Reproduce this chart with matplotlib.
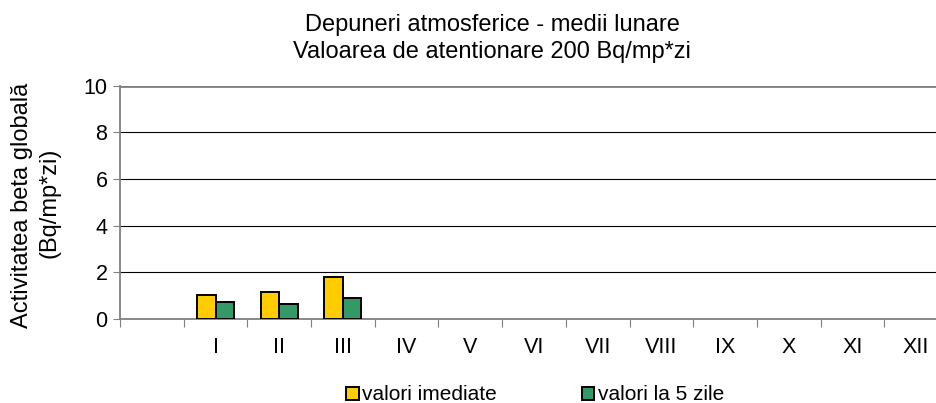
import matplotlib
matplotlib.use("Agg")
import matplotlib.pyplot as plt
import numpy as np

# categories: an empty slot, then the months
months = ["", "I", "II", "III", "IV", "V", "VI", "VII", "VIII", "IX", "X", "XI", "XII"]
valori_imediate = [np.nan, 1.02, 1.15, 1.81] + [np.nan] * 9
valori_5_zile = [np.nan, 0.72, 0.66, 0.89] + [np.nan] * 9

yellow = "#FFCC00"
green = "#339966"

plt.rcParams["font.family"] = ["Liberation Sans", "DejaVu Sans"]

fig = plt.figure(figsize=(9.36, 4.03), dpi=100)
ax = fig.add_axes([120 / 936, 1 - 319 / 403, 828 / 936, (319 - 85.5) / 403])

x = np.arange(len(months))
w = 0.29
ax.bar(x - w / 2, valori_imediate, w, color=yellow, edgecolor="black",
       linewidth=1.4, label="valori imediate", zorder=3)
ax.bar(x + w / 2, valori_5_zile, w, color=green, edgecolor="black",
       linewidth=1.4, label="valori la 5 zile", zorder=3)

ax.set_xlim(-0.5, len(months) - 0.5)
ax.set_ylim(0, 10)
ax.set_yticks(np.arange(0, 10, 2))
ax.yaxis.grid(True, color="black", linewidth=0.8)
ax.axhline(10, color="#808080", linewidth=2, zorder=2)
ax.set_axisbelow(True)

# tick marks on slot boundaries, labels on slot centres
ax.set_xticks(np.arange(-0.5, len(months)))
ax.set_xticklabels([])
ax.set_xticks(x, months, minor=True)
ax.tick_params(axis="x", which="major", length=6, color="#808080", direction="out")
ax.tick_params(axis="x", which="minor", length=0, pad=13, labelsize=15.5)
ax.set_yticks(np.arange(0, 11, 2))
ax.tick_params(axis="y", length=5, color="#808080", labelsize=15.5, pad=4)

for s in ["top", "right"]:
    ax.spines[s].set_visible(False)
ax.spines["left"].set_color("#808080")
ax.spines["bottom"].set_color("#808080")
ax.spines["left"].set_linewidth(1.3)
ax.spines["bottom"].set_linewidth(1.3)

fig.text(492 / 936, 1 - 25 / 403, "Depuneri atmosferice - medii lunare",
         ha="center", va="center", fontsize=17)
fig.text(492 / 936, 1 - 52 / 403, "Valoarea de atentionare 200 Bq/mp*zi",
         ha="center", va="center", fontsize=17)

fig.text(22 / 936, 1 - 205 / 403, "Activitatea beta globală", rotation=90,
         ha="center", va="center", fontsize=17)
fig.text(50 / 936, 1 - 203 / 403, "(Bq/mp*zi)", rotation=90,
         ha="center", va="center", fontsize=17)

fig.legend(loc="center", bbox_to_anchor=(535 / 936, 1 - 395 / 403), ncol=2,
           frameon=False, fontsize=15, handlelength=0.6, handleheight=0.6,
           handletextpad=0.15, columnspacing=4.1, borderpad=0, borderaxespad=0)

fig.savefig("out.png", dpi=100)
